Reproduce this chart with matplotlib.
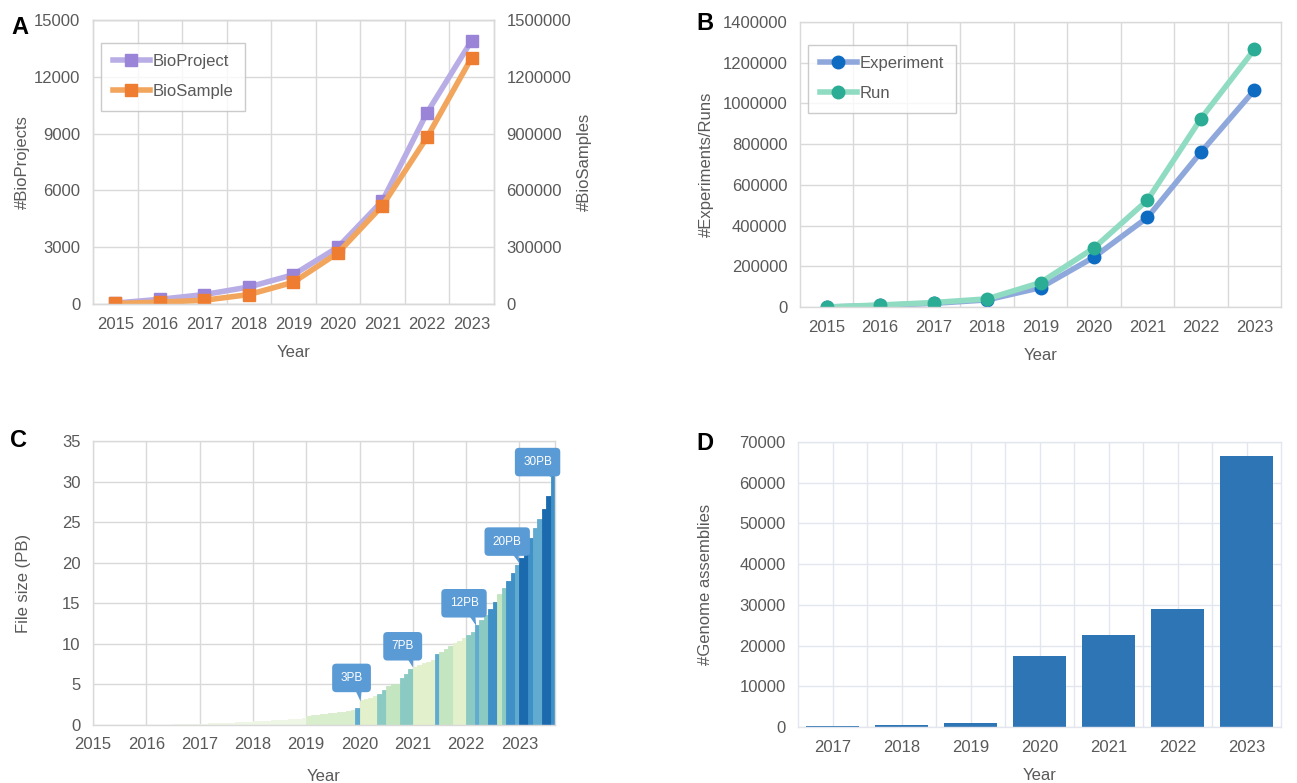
import matplotlib as mpl
mpl.use('Agg')
import matplotlib.pyplot as plt
from matplotlib.patches import Polygon
import numpy as np

plt.rcParams['font.family'] = ['Liberation Sans Narrow', 'Liberation Sans', 'DejaVu Sans']

# ---- data -------------------------------------------------------------
years = [2015, 2016, 2017, 2018, 2019, 2020, 2021, 2022, 2023]

# panel A
bioproject = [50, 250, 500, 900, 1550, 3000, 5450, 10100, 13900]
biosample = [3000, 10000, 20000, 50000, 115000, 270000, 520000, 880000, 1300000]

# panel B
experiment = [0, 8000, 18000, 35000, 95000, 245000, 440000, 760000, 1065000]
run = [0, 10000, 22000, 40000, 120000, 290000, 525000, 925000, 1265000]

# panel C: cumulative file size (PB) per month, Jan 2015 .. Aug 2023
file_size = [
    0.00, 0.00, 0.01, 0.01, 0.01, 0.01, 0.02, 0.02, 0.02, 0.02, 0.03, 0.03,
    0.03, 0.04, 0.04, 0.05, 0.05, 0.05, 0.06, 0.06, 0.07, 0.07, 0.08, 0.08,
    0.15, 0.17, 0.19, 0.21, 0.23, 0.25, 0.27, 0.29, 0.31, 0.33, 0.35, 0.38,
    0.45, 0.48, 0.51, 0.54, 0.57, 0.60, 0.63, 0.66, 0.70, 0.73, 0.77, 0.80,
    1.15, 1.21, 1.27, 1.33, 1.39, 1.45, 1.52, 1.59, 1.66, 1.74, 1.82, 2.05,
    3.05, 3.20, 3.35, 3.55, 3.80, 4.35, 4.85, 5.00, 5.10, 5.75, 6.30, 6.85,
    7.20, 7.40, 7.60, 7.80, 8.00, 8.75, 9.05, 9.35, 9.70, 10.05, 10.40, 10.75,
    11.05, 11.50, 12.30, 12.90, 13.60, 14.30, 15.20, 16.10, 16.90, 17.70, 18.70, 19.70,
    20.60, 21.90, 23.10, 24.30, 25.40, 26.60, 28.20, 31.80,
]
# colour group of each month's bar
month_group = (
    'aaaaaaaaaaaa' 'aaaaaaaaaaaa' 'aaaaaaaaaaaa' 'aaaaaaaaaaaa'
    'bbbbbbbbbbbf' 'cccceedddeee' 'cccccfdddccc' 'eefeeggdeggf'
    'hhgffhhg'
)
group_colors = {'a': '#eef6e6', 'b': '#d9eecd', 'c': '#e2f0cc', 'd': '#c3e5c0',
                'e': '#8acac3', 'f': '#62abd0', 'g': '#3f90c6', 'h': '#1c6aae'}

callout_text = ['3PB', '7PB', '12PB', '20PB', '30PB']
callout_at = [(2020.02, 2.9), (2021.0, 7.1), (2022.19, 12.2), (2023.0, 19.9), (2023.62, 30.4)]
callout_box = [(2019.85, 5.8), (2020.81, 9.7), (2021.96, 15.0), (2022.77, 22.6), (2023.34, 32.4)]

# panel D
asm_years = ['2017', '2018', '2019', '2020', '2021', '2022', '2023']
assemblies = [250, 450, 1100, 17400, 22700, 29000, 66500]

# ---- style -----------------------------------------------------------
TXT = '#595959'
GRID = '#d9d9d9'
CALLOUT = '#5b9bd5'
FS = 12


def style_axes(ax, gridcolor=GRID):
    for s in ax.spines.values():
        s.set_color(gridcolor)
        s.set_linewidth(1.0)
    ax.tick_params(length=0, labelsize=FS, labelcolor=TXT, pad=9)
    ax.set_axisbelow(True)


fig = plt.figure(figsize=(12.97, 7.83), dpi=100)

# ---- A ---------------------------------------------------------------
axA = fig.add_axes([0.0717, 0.6117, 0.309, 0.3627])
style_axes(axA)
axA.set_xlim(2014.5, 2023.5)
axA.set_ylim(0, 15000)
axA.set_yticks(range(0, 15001, 3000))
axA.set_xticks(years)
axA.set_xticks(np.array(years[:-1]) + 0.5, minor=True)
axA.tick_params(which='minor', length=0)
axA.grid(True, which='minor', axis='x', color=GRID, lw=1)
axA.grid(True, which='major', axis='y', color=GRID, lw=1)
l1, = axA.plot(years, bioproject, color='#b9ade6', lw=4, marker='s', ms=9,
               mfc='#9a84d8', mec='#9a84d8', label='BioProject')
axA.set_ylabel('#BioProjects', fontsize=FS, color=TXT, labelpad=3)
axA.set_xlabel('Year', fontsize=FS, color=TXT, labelpad=10)

axA2 = axA.twinx()
style_axes(axA2)
axA2.set_ylim(0, 1500000)
ticksA2 = list(range(0, 1500001, 300000))
axA2.set_yticks(ticksA2)
axA2.set_yticklabels([str(t) for t in ticksA2])
l2, = axA2.plot(years, biosample, color='#f2a55c', lw=4, marker='s', ms=9,
                mfc='#ee7d31', mec='#ee7d31', label='BioSample')
axA2.set_ylabel('#BioSamples', fontsize=FS, color=TXT, labelpad=4)
leg = axA2.legend(handles=[l1, l2], loc='upper left', bbox_to_anchor=(0.0, 0.95),
                  fontsize=FS, frameon=True, fancybox=False, edgecolor='#bfbfbf',
                  handlelength=2.2, handletextpad=0.2, labelspacing=0.9,
                  borderpad=0.7, labelcolor=TXT)
leg.get_frame().set_linewidth(1.0)
fig.text(0.009, 0.965, 'A', fontsize=17, fontweight='bold', family='Liberation Sans',
         va='center')

# ---- B ---------------------------------------------------------------
axB = fig.add_axes([0.6168, 0.6079, 0.3709, 0.364])
style_axes(axB)
axB.set_xlim(2014.5, 2023.5)
axB.set_ylim(0, 1400000)
ticksB = list(range(0, 1400001, 200000))
axB.set_yticks(ticksB)
axB.set_yticklabels([str(t) for t in ticksB])
axB.set_xticks(years)
axB.set_xticks(np.array(years[:-1]) + 0.5, minor=True)
axB.tick_params(which='minor', length=0)
axB.grid(True, which='minor', axis='x', color=GRID, lw=1)
axB.grid(True, which='major', axis='y', color=GRID, lw=1)
axB.plot(years, experiment, color='#8fa8dc', lw=4, marker='o', ms=9,
         mfc='#0d6cc2', mec='#0d6cc2', label='Experiment')
axB.plot(years, run, color='#8fdcc2', lw=4, marker='o', ms=9,
         mfc='#2bac94', mec='#2bac94', label='Run')
axB.set_ylabel('#Experiments/Runs', fontsize=FS, color=TXT, labelpad=6)
axB.set_xlabel('Year', fontsize=FS, color=TXT, labelpad=10)
leg = axB.legend(loc='upper left', bbox_to_anchor=(0.0, 0.95),
                 fontsize=FS, frameon=True, fancybox=False, edgecolor='#bfbfbf',
                 handlelength=2.2, handletextpad=0.2, labelspacing=0.9,
                 borderpad=0.7, labelcolor=TXT)
leg.get_frame().set_linewidth(1.0)
fig.text(0.537, 0.97, 'B', fontsize=17, fontweight='bold', family='Liberation Sans',
         va='center')

# ---- C ---------------------------------------------------------------
axC = fig.add_axes([0.0717, 0.0741, 0.3562, 0.3627])
style_axes(axC)
month_x = 2015 + np.arange(len(file_size)) / 12.0
colsC = [group_colors[g] for g in month_group]
axC.bar(month_x, file_size, width=1 / 12.0, align='edge', color=colsC,
        edgecolor=colsC, lw=0.6)
axC.set_xlim(2015, 2015 + len(file_size) / 12.0)
axC.set_ylim(0, 35)
axC.set_yticks(range(0, 36, 5))
axC.set_xticks(years)
axC.grid(True, color=GRID, lw=1)
for txt, (tx, ty), (bx, by) in zip(callout_text, callout_at, callout_box):
    # pointer: triangle from the box bottom down to the target
    axC.add_patch(Polygon([(tx, ty), (bx + 0.02, by - 0.8), (bx + 0.2, by - 0.8)],
                          closed=True, fc=CALLOUT, ec='none', zorder=4))
    axC.text(bx, by, txt, ha='center', va='center', fontsize=8.5, color='white',
             zorder=5,
             bbox=dict(boxstyle='round,pad=0.7,rounding_size=0.35',
                       fc=CALLOUT, ec='none'))
axC.set_ylabel('File size (PB)', fontsize=FS, color=TXT, labelpad=22)
axC.set_xlabel('Year', fontsize=FS, color=TXT, labelpad=12)
fig.text(0.008, 0.437, 'C', fontsize=17, fontweight='bold', family='Liberation Sans',
         va='center')

# ---- D ---------------------------------------------------------------
GRID_D = '#e3e6ee'
axD = fig.add_axes([0.6153, 0.0715, 0.3724, 0.364])
style_axes(axD, GRID_D)
xD = np.arange(len(asm_years))
axD.bar(xD, assemblies, width=0.78, color='#2e75b6', lw=0)
axD.set_xlim(-0.5, len(asm_years) - 0.5)
axD.set_ylim(0, 70000)
axD.set_yticks(range(0, 70001, 10000))
axD.set_xticks(xD)
axD.set_xticklabels(asm_years)
axD.set_xticks(np.arange(len(asm_years) - 1) + 0.5, minor=True)
axD.tick_params(which='minor', length=0)
axD.grid(True, which='both', color=GRID_D, lw=1)
axD.set_ylabel('#Genome assemblies', fontsize=FS, color=TXT, labelpad=19)
axD.set_xlabel('Year', fontsize=FS, color=TXT, labelpad=10)
fig.text(0.537, 0.434, 'D', fontsize=17, fontweight='bold', family='Liberation Sans',
         va='center')

fig.savefig('out.png', dpi=100)
